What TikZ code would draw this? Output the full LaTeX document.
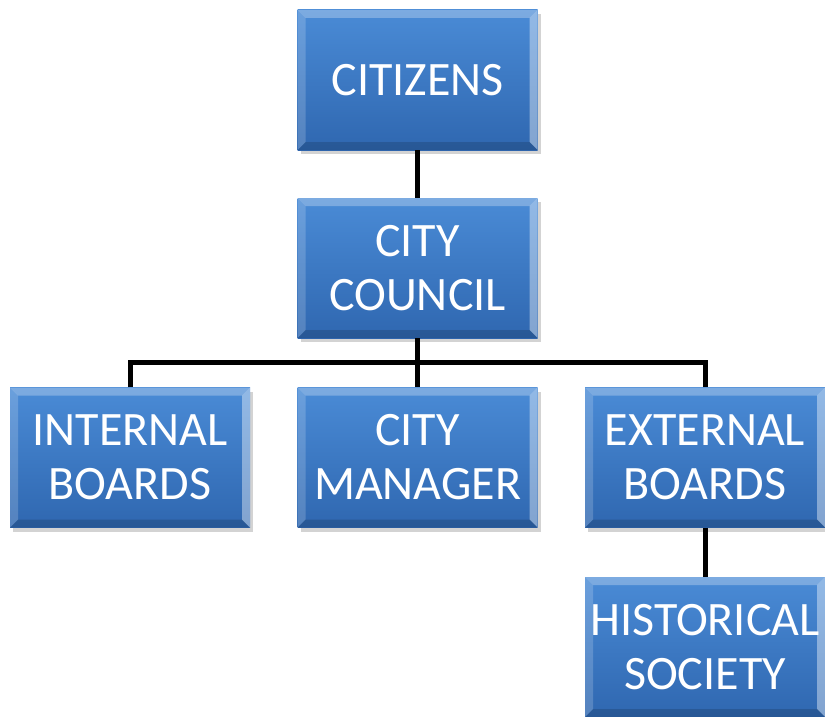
\documentclass[tikz,border=0pt]{standalone}
\usepackage{fontspec}
\setmainfont{Carlito}
\usetikzlibrary{shadows}
\definecolor{boxtop}{HTML}{4A8BD6}
\definecolor{boxbot}{HTML}{2F67B0}
\tikzset{
  box/.style={minimum width=240pt, minimum height=140pt, inner sep=0pt, align=center,
    text=white, font=\fontsize{48}{54}\selectfont,
    top color=boxtop, bottom color=boxbot,
    drop shadow={shadow xshift=3pt, shadow yshift=-4pt, opacity=.35},
    path picture={
      \fill[white,opacity=.28] (path picture bounding box.north west) -- (path picture bounding box.north east)
        -- ([xshift=-8pt,yshift=-8pt]path picture bounding box.north east) -- ([xshift=8pt,yshift=-8pt]path picture bounding box.north west) -- cycle;
      \fill[white,opacity=.18] (path picture bounding box.north west) -- ([xshift=8pt,yshift=-8pt]path picture bounding box.north west)
        -- ([xshift=8pt,yshift=8pt]path picture bounding box.south west) -- (path picture bounding box.south west) -- cycle;
      \fill[white,opacity=.4] (path picture bounding box.north east) -- ([xshift=-8pt,yshift=-8pt]path picture bounding box.north east)
        -- ([xshift=-8pt,yshift=8pt]path picture bounding box.south east) -- (path picture bounding box.south east) -- cycle;
      \fill[black,opacity=.15] (path picture bounding box.south west) -- ([xshift=8pt,yshift=8pt]path picture bounding box.south west)
        -- ([xshift=-8pt,yshift=8pt]path picture bounding box.south east) -- (path picture bounding box.south east) -- cycle;
    }},
  link/.style={line width=5pt, black, line join=miter}
}
\begin{document}
\begin{tikzpicture}[x=1pt,y=-1pt]
\useasboundingbox (0,0) rectangle (825,717);
\node[box] (cit) at (417.5,80) {CITIZENS};
\node[box] (cc) at (417.5,268) {CITY\\COUNCIL};
\node[box] (ib) at (130,457.5) {INTERNAL\\BOARDS};
\node[box] (cm) at (417.5,457.5) {CITY\\MANAGER};
\node[box] (eb) at (705,457.5) {EXTERNAL\\BOARDS};
\node[box] (hs) at (705,647) {HISTORICAL\\SOCIETY};
\coordinate (j) at (417.5,362);
\draw[link] (cit.south) -- (cc.north);
\draw[link] (cc.south) -- (j);
\draw[link] (ib.north) -- (ib.north |- j) -- (eb.north |- j) -- (eb.north);
\draw[link] (j) -- (cm.north);
\draw[link] (eb.south) -- (hs.north);
\end{tikzpicture}
\end{document}
